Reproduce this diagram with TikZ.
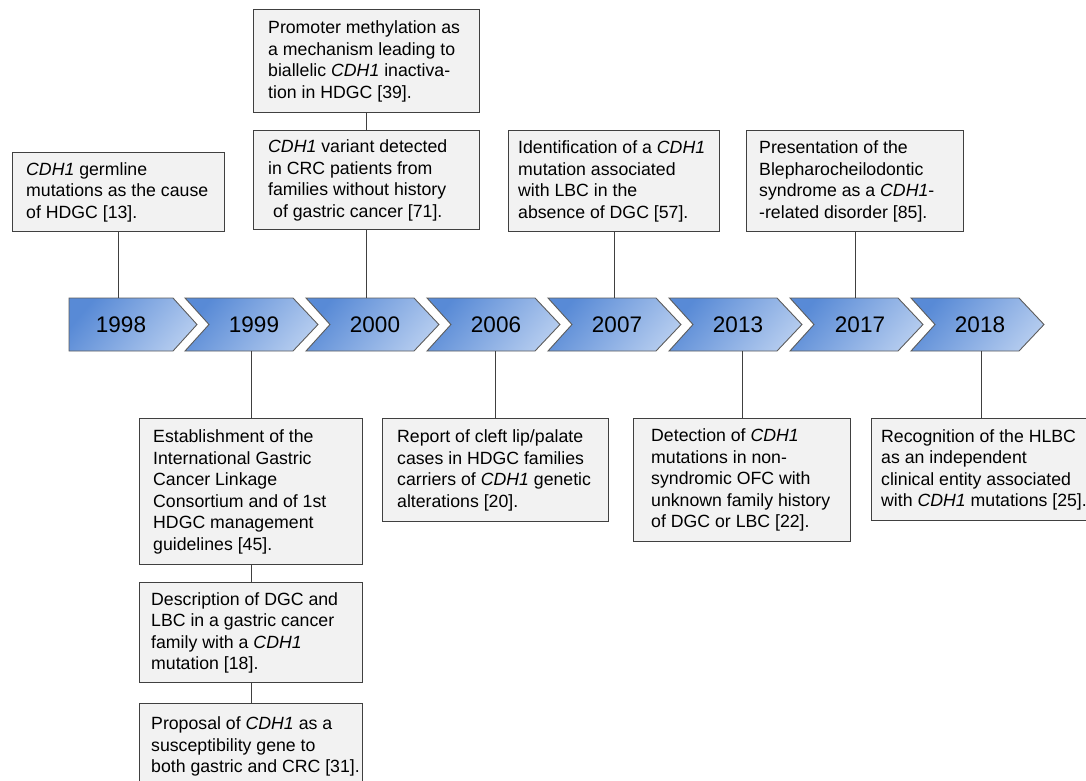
\documentclass[tikz,border=0pt]{standalone}
\usepackage{fontspec}
\setmainfont{Liberation Sans}
\definecolor{boxfill}{RGB}{242,242,242}
\definecolor{boxline}{RGB}{64,64,64}
\definecolor{chevdark}{RGB}{88,138,214}
\definecolor{chevlight}{RGB}{178,202,238}
\begin{document}
\begin{tikzpicture}[x=1pt,y=-1pt,
  evbox/.style={draw=boxline, fill=boxfill, line width=1.4pt, anchor=north west, inner sep=0pt},
  evtext/.style={anchor=west, align=left, inner sep=0pt, font=\fontsize{17.7}{21.5}\selectfont},
  chev/.style={draw=boxline!85, line width=0.9pt, shading=axis, top color=chevdark, bottom color=chevlight, shading angle=50},
  yearlbl/.style={font=\fontsize{22.5}{26}\selectfont, minimum height=53pt, inner sep=0pt},
  conn/.style={draw=boxline, line width=1.4pt}]
\useasboundingbox (0,0) rectangle (1086,780);
\clip (0,0) rectangle (1086,780);

% chevrons
\path[chev] (69,298) -- (173,298) -- (197,324.5) -- (173,351) -- (69,351) -- cycle;
\foreach \xo in {185,306,427,548,669,790,911}{
  \path[chev] (\xo,298) -- (\xo+108,298) -- (\xo+133,324.5) -- (\xo+108,351) -- (\xo,351) -- (\xo+24,324.5) -- cycle;
}
\node[yearlbl] (y1998) at (121,324.5) {1998};
\node[yearlbl] (y1999) at (254,324.5) {1999};
\node[yearlbl] (y2000) at (375,324.5) {2000};
\node[yearlbl] (y2006) at (496,324.5) {2006};
\node[yearlbl] (y2007) at (617,324.5) {2007};
\node[yearlbl] (y2013) at (738,324.5) {2013};
\node[yearlbl] (y2017) at (860,324.5) {2017};
\node[yearlbl] (y2018) at (980,324.5) {2018};

% boxes above
\node[evbox, minimum width=212pt, minimum height=79pt] (b1998) at (12,152) {};
\node[evtext] (t1998) at ([xshift=14pt]b1998.west) {\textit{CDH1} germline\\mutations as the cause\\of HDGC [13].};

\node[evbox, minimum width=226pt, minimum height=103pt] (b2000a) at (253,9) {};
\node[evtext] (t2000a) at ([xshift=15pt]b2000a.west) {Promoter methylation as\\a mechanism leading to\\biallelic \textit{CDH1} inactiva-\\tion in HDGC [39].};

\node[evbox, minimum width=226pt, minimum height=99pt] (b2000b) at (253,130) {};
\node[evtext] (t2000b) at ([xshift=15pt]b2000b.west) {\textit{CDH1} variant detected\\in CRC patients from\\families without history\\\hspace*{0.28em}of gastric cancer [71].};

\node[evbox, minimum width=211pt, minimum height=101pt] (b2007) at (508,130) {};
\node[evtext] (t2007) at ([xshift=10pt]b2007.west) {Identification of a \textit{CDH1}\\mutation associated\\with LBC in the\\absence of DGC [57].};

\node[evbox, minimum width=217pt, minimum height=101pt] (b2017) at (746,130) {};
\node[evtext] (t2017) at ([xshift=13pt]b2017.west) {Presentation of the\\Blepharocheilodontic\\syndrome as a \textit{CDH1}-\\-related disorder [85].};

% boxes below
\node[evbox, minimum width=223pt, minimum height=146pt] (b1999a) at (139,418) {};
\node[evtext] (t1999a) at ([xshift=14pt]b1999a.west) {Establishment of the\\International Gastric\\Cancer Linkage\\Consortium and of 1st\\HDGC management\\guidelines [45].};

\node[evbox, minimum width=223pt, minimum height=100pt] (b1999b) at (139,582) {};
\node[evtext] (t1999b) at ([xshift=12pt]b1999b.west) {Description of DGC and\\LBC in a gastric cancer\\family with a \textit{CDH1}\\mutation [18].};

\node[evbox, minimum width=223pt, minimum height=86pt] (b1999c) at (139,703) {};
\node[evtext] (t1999c) at ([xshift=12pt]b1999c.west) {Proposal of \textit{CDH1} as a\\susceptibility gene to\\both gastric and CRC [31].};

\node[evbox, minimum width=226pt, minimum height=103pt] (b2006) at (382,418) {};
\node[evtext] (t2006) at ([xshift=15pt]b2006.west) {Report of cleft lip/palate\\cases in HDGC families\\carriers of \textit{CDH1} genetic\\alterations [20].};

\node[evbox, minimum width=217pt, minimum height=123pt] (b2013) at (633,418) {};
\node[evtext] (t2013) at ([xshift=18pt]b2013.west) {Detection of \textit{CDH1}\\mutations in non-\\syndromic OFC with\\unknown family history\\of DGC or LBC [22].};

\node[evbox, minimum width=230pt, minimum height=102pt] (b2018) at (871,418) {};
\node[evtext] (t2018) at ([xshift=10pt]b2018.west) {Recognition of the HLBC\\as an independent\\clinical entity associated\\with \textit{CDH1} mutations [25].};

% connectors
\draw[conn] (b1998.south) -- (b1998.south |- y1998.north);
\draw[conn] (b2000a.south) -- (b2000b.north);
\draw[conn] (b2000b.south) -- (b2000b.south |- y2000.north);
\draw[conn] (b2007.south) -- (b2007.south |- y2007.north);
\draw[conn] (b2017.south) -- (b2017.south |- y2017.north);
\draw[conn] (b1999a.north |- y1999.south) -- (b1999a.north);
\draw[conn] (b1999a.south) -- (b1999b.north);
\draw[conn] (b1999b.south) -- (b1999c.north);
\draw[conn] (b2006.north |- y2006.south) -- (b2006.north);
\draw[conn] (b2013.north |- y2013.south) -- (b2013.north);
\draw[conn] ([xshift=-5pt]b2018.north |- y2018.south) -- ([xshift=-5pt]b2018.north);
\end{tikzpicture}
\end{document}
